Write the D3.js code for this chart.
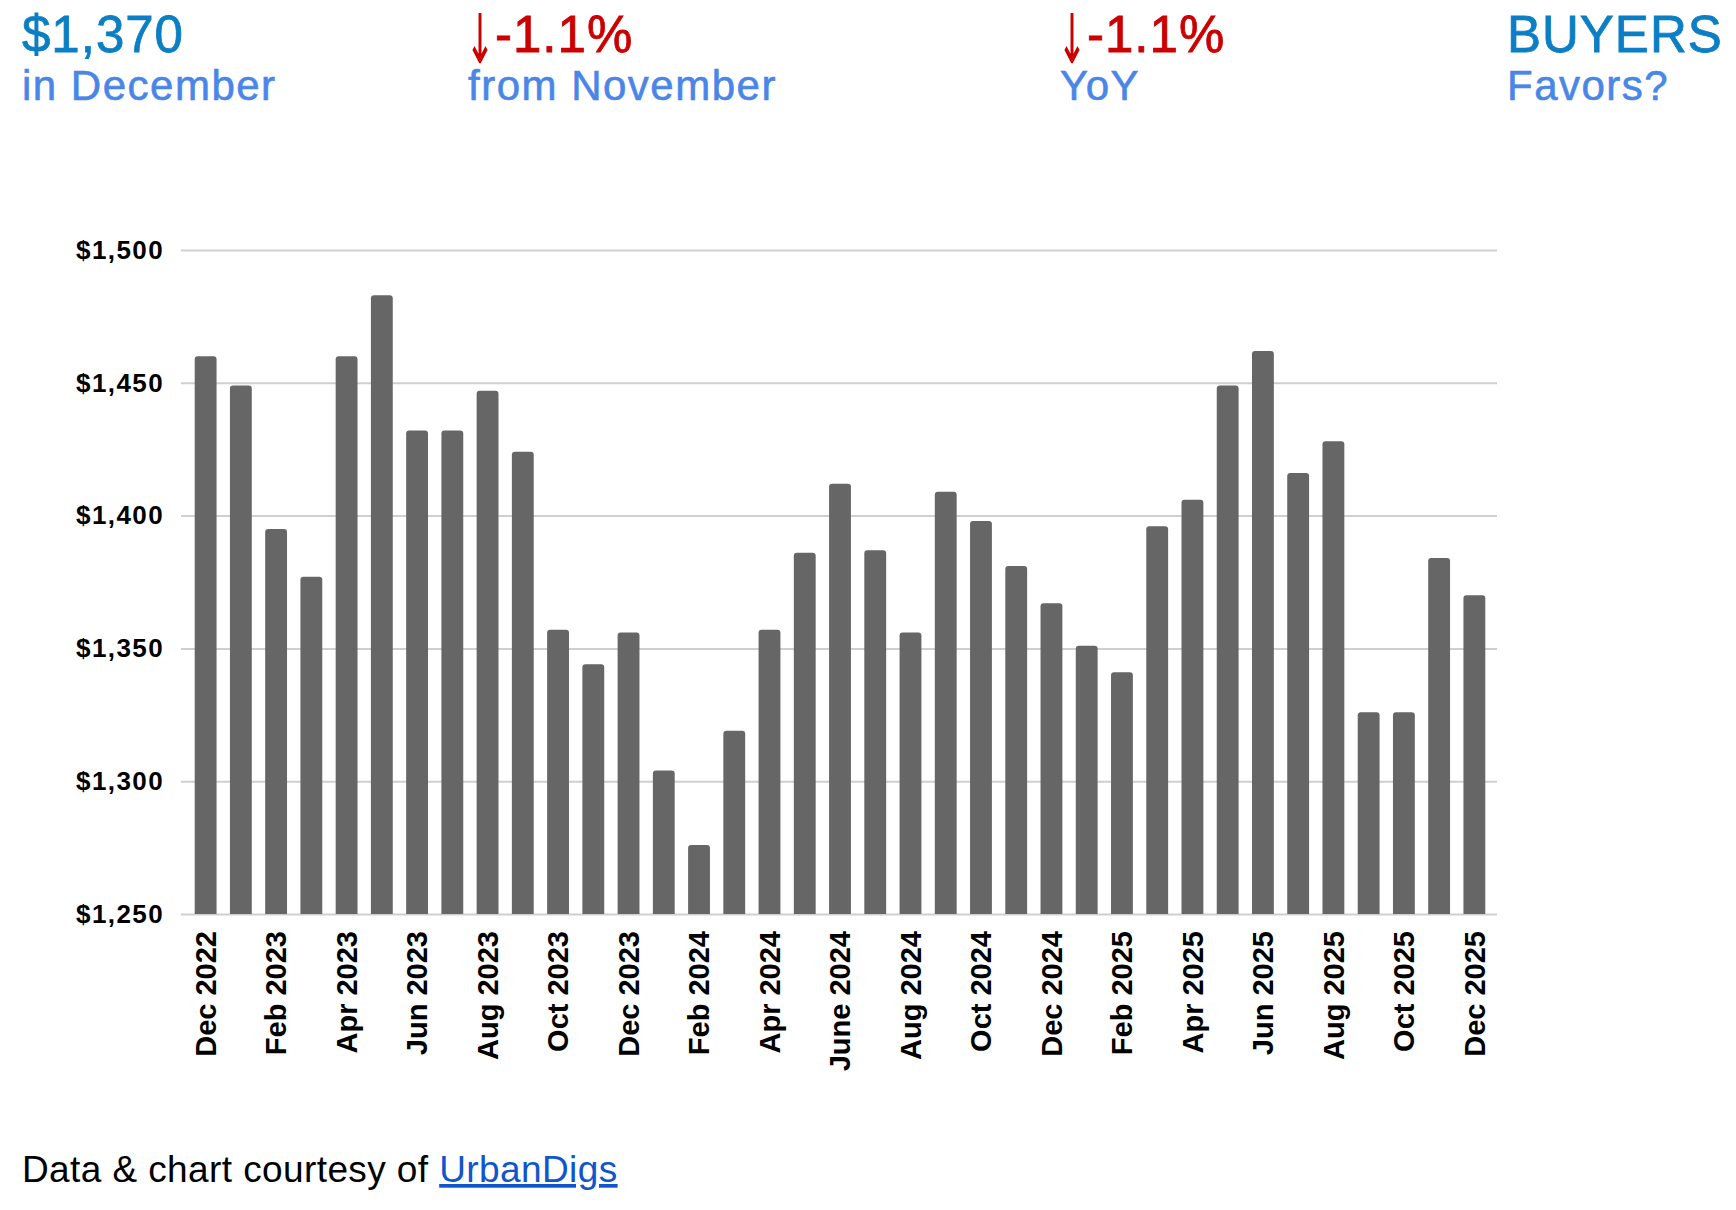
<!DOCTYPE html>
<html>
<head>
<meta charset="utf-8">
<script src="https://cdn.jsdelivr.net/npm/d3@7"></script>
<style>
  html, body { margin: 0; padding: 0; background: #ffffff; }
  svg { display: block; font-family: "Liberation Sans", Arial, Helvetica, sans-serif; }
</style>
</head>
<body>
<svg id="chart" width="1736" height="1210"></svg>
<script>
// ---- data ----
const months = ["Dec 2022","Jan 2023","Feb 2023","Mar 2023","Apr 2023","May 2023","Jun 2023","Jul 2023",
  "Aug 2023","Sep 2023","Oct 2023","Nov 2023","Dec 2023","Jan 2024","Feb 2024","Mar 2024","Apr 2024",
  "May 2024","June 2024","Jul 2024","Aug 2024","Sep 2024","Oct 2024","Nov 2024","Dec 2024","Jan 2025",
  "Feb 2025","Mar 2025","Apr 2025","May 2025","Jun 2025","Jul 2025","Aug 2025","Sep 2025","Oct 2025",
  "Nov 2025","Dec 2025"];
const rents = [1460,1449,1395,1377,1460,1483,1432,1432,1447,1424,1357,1344,1356,1304,1276,1319,1357,
  1386,1412,1387,1356,1409,1398,1381,1367,1351,1341,1396,1406,1449,1462,1416,1428,1326,1326,1384,1370];
const yTicks = [1250, 1300, 1350, 1400, 1450, 1500];
const xTickLabels = months.filter((d, i) => i % 2 === 0);

const headerBig = ["$1,370", "-1.1%", "-1.1%", "BUYERS"];
const headerBigColor = ["#0b7ec4", "#cc0000", "#cc0000", "#0b7ec4"];
const headerArrow = [false, true, true, false];
const headerSmall = ["in December", "from November", "YoY", "Favors?"];
const headerX = [22, 468, 1060, 1507];

// ---- layout ----
const svg = d3.select("#chart");
const gridLeft = 181, gridRight = 1497;
const x = d3.scaleBand().domain(months).range([188, 1492]).paddingInner(0.38).paddingOuter(0.19);
const y = d3.scaleLinear().domain([1250, 1500]).range([914, 250]);

// header
headerBig.forEach((txt, i) => {
  let tx = headerX[i];
  if (headerArrow[i]) {
    svg.append("text")
      .attr("transform", `translate(${tx + 12},63) scale(0.8,1.56)`)
      .attr("text-anchor", "middle")
      .attr("font-family", "'DejaVu Sans', sans-serif")
      .attr("font-size", 44)
      .attr("fill", headerBigColor[i])
      .text("\u2193");
    tx += 27;
  }
  svg.append("text")
    .attr("x", tx).attr("y", 52)
    .attr("font-size", 51).attr("letter-spacing", 1)
    .attr("fill", headerBigColor[i])
    .attr("stroke", headerBigColor[i]).attr("stroke-width", 0.8)
    .text(txt);
});
headerSmall.forEach((s, i) => {
  svg.append("text")
    .attr("x", headerX[i]).attr("y", 100)
    .attr("font-size", 42).attr("letter-spacing", 1.5)
    .attr("fill", "#4a86e8")
    .attr("stroke", "#4a86e8").attr("stroke-width", 0.6)
    .text(s);
});

// y axis with gridlines
const yAxis = svg.append("g")
  .attr("transform", `translate(${gridLeft},0)`)
  .call(d3.axisLeft(y).tickValues(yTicks).tickFormat(d3.format("$,"))
    .tickSizeInner(-(gridRight - gridLeft)).tickSizeOuter(0).tickPadding(17));
yAxis.select(".domain").remove();
yAxis.selectAll(".tick line").attr("stroke", "#cfcfcf").attr("stroke-width", 2);
yAxis.selectAll(".tick text")
  .attr("font-family", "'Liberation Sans', Arial, sans-serif")
  .attr("font-size", 26).attr("font-weight", "bold").attr("letter-spacing", 1.4)
  .attr("fill", "#000");

// bars with rounded tops
const r = 3;
svg.append("g").selectAll("path")
  .data(rents.map((v, i) => ({m: months[i], v})))
  .join("path")
  .attr("fill", "#666666")
  .attr("d", d => {
    const x0 = x(d.m), x1 = x(d.m) + x.bandwidth(), yt = y(d.v), yb = y(1250);
    return `M${x0},${yb}V${yt + r}Q${x0},${yt} ${x0 + r},${yt}H${x1 - r}Q${x1},${yt} ${x1},${yt + r}V${yb}Z`;
  });

// x axis labels
const xAxis = svg.append("g")
  .attr("transform", `translate(0,${y(1250)})`)
  .call(d3.axisBottom(x).tickValues(xTickLabels).tickSize(0));
xAxis.select(".domain").remove();
xAxis.selectAll(".tick text")
  .attr("font-family", "'Liberation Sans', Arial, sans-serif")
  .attr("font-size", 29).attr("font-weight", "bold").attr("fill", "#000")
  .attr("text-anchor", "end")
  .attr("transform", "rotate(-90)")
  .attr("x", -17).attr("y", 0).attr("dy", "0.35em");

// footer
const foot = svg.append("text")
  .attr("x", 22).attr("y", 1182)
  .attr("font-size", 37).attr("letter-spacing", 0.4).attr("fill", "#000");
foot.append("tspan").text("Data & chart courtesy of ");
foot.append("tspan").attr("fill", "#1155cc").attr("text-decoration", "underline").text("UrbanDigs");
</script>
</body>
</html>
